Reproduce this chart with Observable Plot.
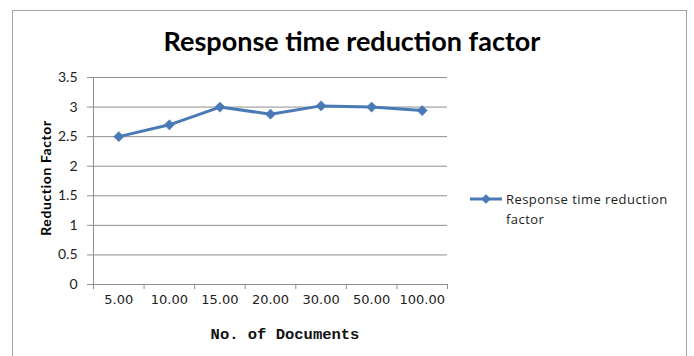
<!DOCTYPE html>
<html>
<head>
<meta charset="utf-8">
<script src="https://cdn.jsdelivr.net/npm/d3@7"></script>
<script src="https://cdn.jsdelivr.net/npm/@observablehq/plot@0.6"></script>
<style>
  html, body { margin: 0; padding: 0; background: #fff; }
  #wrap { position: relative; width: 694px; height: 356px; overflow: hidden; background: #fff; }
  #frame { position: absolute; left: 12px; top: 10px; width: 675px; height: 360px;
           border: 1.5px solid #a6a6a6; border-bottom: none; box-sizing: border-box; }
  .t { position: absolute; white-space: nowrap; color: #000; }
  #title { left: 0; width: 704px; top: 24px; text-align: center;
           font: bold 27px Lato, "Open Sans", sans-serif; }
  #ytitle { left: 45px; top: 178px; transform: translate(-50%, -50%) rotate(-90deg);
            font: bold 14px Lato, sans-serif; letter-spacing: 0.6px; }
  #xtitle { left: 285px; top: 335px; transform: translate(-50%, -50%);
            font: bold 15.5px "Liberation Mono", "Courier New", monospace; color: #111; }
  #legend { left: 469px; top: 189px; font: 13px "Open Sans", sans-serif; color: #222; line-height: 20px; letter-spacing: 0.45px; }
  #legend svg { position: absolute; left: 0; top: 3px; }
  #legend div { margin-left: 37px; }
  #chart { position: absolute; left: 0; top: 0; }
</style>
</head>
<body>
<div id="wrap">
  <div id="frame"></div>
  <div id="chart"></div>
  <div class="t" id="title">Response time reduction factor</div>
  <div class="t" id="ytitle">Reduction Factor</div>
  <div class="t" id="xtitle">No. of Documents</div>
  <div class="t" id="legend"></div>
</div>
<script>
// Number of documents (category labels) and the measured reduction factor
const documents = ["5.00", "10.00", "15.00", "20.00", "30.00", "50.00", "100.00"];
const reductionFactor = [2.5, 2.7, 3.0, 2.88, 3.02, 3.0, 2.94];
const yTicks = [0, 0.5, 1, 1.5, 2, 2.5, 3, 3.5];
const seriesName = "Response time reduction factor";

const lineColor = "#4a7ab5";
const gridColor = "#8f8f8f";

// Each category occupies one unit slot; points sit in the middle of their slot
const rows = documents.map((d, i) => ({label: d, slot: i + 0.5, value: reductionFactor[i]}));
const edges = d3.range(documents.length + 1);
const centers = rows.map(r => r.slot);

const chart = Plot.plot({
  width: 694,
  height: 356,
  marginLeft: 93,
  marginRight: 247,
  marginTop: 77,
  marginBottom: 72,
  style: {background: "transparent", overflow: "visible"},
  x: {type: "linear", domain: [0, documents.length]},
  y: {domain: [0, 3.5]},
  marks: [
    Plot.gridY(yTicks, {stroke: gridColor, strokeOpacity: 1, strokeWidth: 1}),
    Plot.ruleX([0], {stroke: gridColor}),
    Plot.ruleY([0], {stroke: gridColor}),
    Plot.axisY(yTicks, {
      tickSize: 6, tickPadding: 10, stroke: gridColor,
      fontSize: 14, fontFamily: "Lato, sans-serif", fill: "#222",
      tickFormat: d => String(d), label: null
    }),
    // Slot boundary ticks below the category axis
    Plot.axisX(edges, {tickSize: 5, stroke: gridColor, tickFormat: () => "", label: null}),
    // Category labels centred in each slot
    Plot.axisX(centers, {
      tickSize: 0, tickPadding: 10,
      fontSize: 13, fontFamily: "DejaVu Sans, sans-serif", fill: "#222",
      tickFormat: s => documents[Math.round(s - 0.5)], label: null
    }),
    Plot.line(rows, {x: "slot", y: "value", stroke: lineColor, strokeWidth: 3, strokeLinejoin: "round"}),
    Plot.dot(rows, {x: "slot", y: "value", symbol: "diamond2", r: 4.6, fill: lineColor, stroke: lineColor, strokeWidth: 0.5})
  ]
});
document.getElementById("chart").appendChild(chart);

// Legend: swatch with line and marker, followed by the series name
const legend = document.getElementById("legend");
const sw = d3.create("svg").attr("width", 34).attr("height", 14);
sw.append("line").attr("x1", 1).attr("x2", 33).attr("y1", 7).attr("y2", 7)
  .attr("stroke", lineColor).attr("stroke-width", 3);
sw.append("path").attr("transform", "translate(17,7)")
  .attr("d", d3.symbol(d3.symbolDiamond2, 60)()).attr("fill", lineColor);
legend.appendChild(sw.node());
const words = seriesName.split(" ");
const lines = [words.slice(0, 3).join(" "), words.slice(3).join(" ")];
for (const l of lines) {
  const div = document.createElement("div");
  div.textContent = l;
  legend.appendChild(div);
}
</script>
</body>
</html>
